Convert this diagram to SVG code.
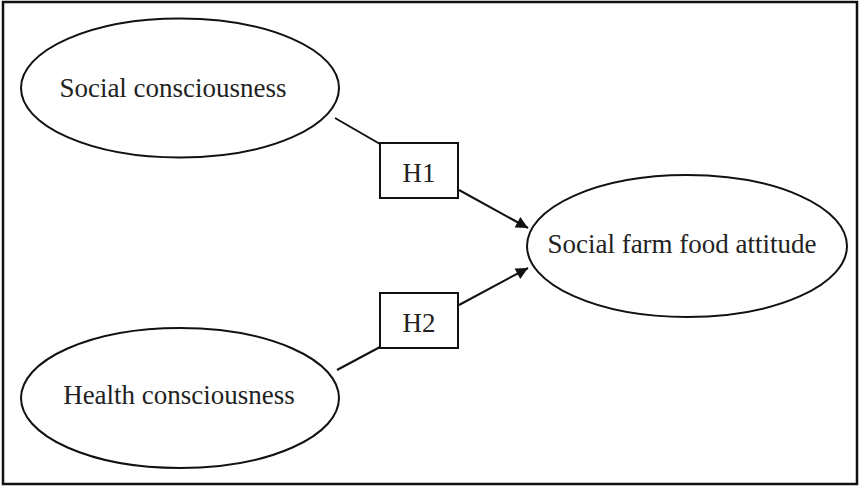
<svg xmlns="http://www.w3.org/2000/svg" width="860" height="488" viewBox="0 0 860 488">
<style>
.node{fill:#fff;stroke:#111;stroke-width:2}
.lbl{font-family:"Liberation Serif","Times New Roman",serif;font-size:27px;fill:#222;text-anchor:middle}
.box{fill:#fff;stroke:#111;stroke-width:2}
.conn{fill:none;stroke:#111;stroke-width:2}
</style>
<defs>
<marker id="arr" viewBox="0 0 10 10" refX="10" refY="5" markerWidth="7" markerHeight="6" markerUnits="strokeWidth" orient="auto">
<path d="M0,0 L10,5 L0,10 Z" fill="#111"/>
</marker>
</defs>
<rect x="3" y="2" width="854" height="482" fill="#fff" stroke="#111" stroke-width="2.5"/>
<g id="connectors">
<line class="conn" x1="335" y1="118" x2="380" y2="144"/>
<line class="conn" x1="459" y1="190" x2="528" y2="228" marker-end="url(#arr)"/>
<line class="conn" x1="337" y1="370" x2="380" y2="347"/>
<line class="conn" x1="459" y1="305" x2="528" y2="268" marker-end="url(#arr)"/>
</g>
<g id="social-consciousness">
<ellipse class="node" cx="180" cy="88" rx="159" ry="69.5"/>
<text class="lbl" x="173" y="97">Social consciousness</text>
</g>
<g id="health-consciousness">
<ellipse class="node" cx="180" cy="398" rx="159" ry="70"/>
<text class="lbl" x="179" y="404">Health consciousness</text>
</g>
<g id="social-farm-food-attitude">
<ellipse class="node" cx="687" cy="246" rx="160" ry="71"/>
<text class="lbl" x="682" y="253">Social farm food attitude</text>
</g>
<g id="h1">
<rect class="box" x="380" y="143" width="78" height="55"/>
<text class="lbl" x="419" y="182">H1</text>
</g>
<g id="h2">
<rect class="box" x="380" y="293" width="78" height="55"/>
<text class="lbl" x="419" y="332">H2</text>
</g>
</svg>
